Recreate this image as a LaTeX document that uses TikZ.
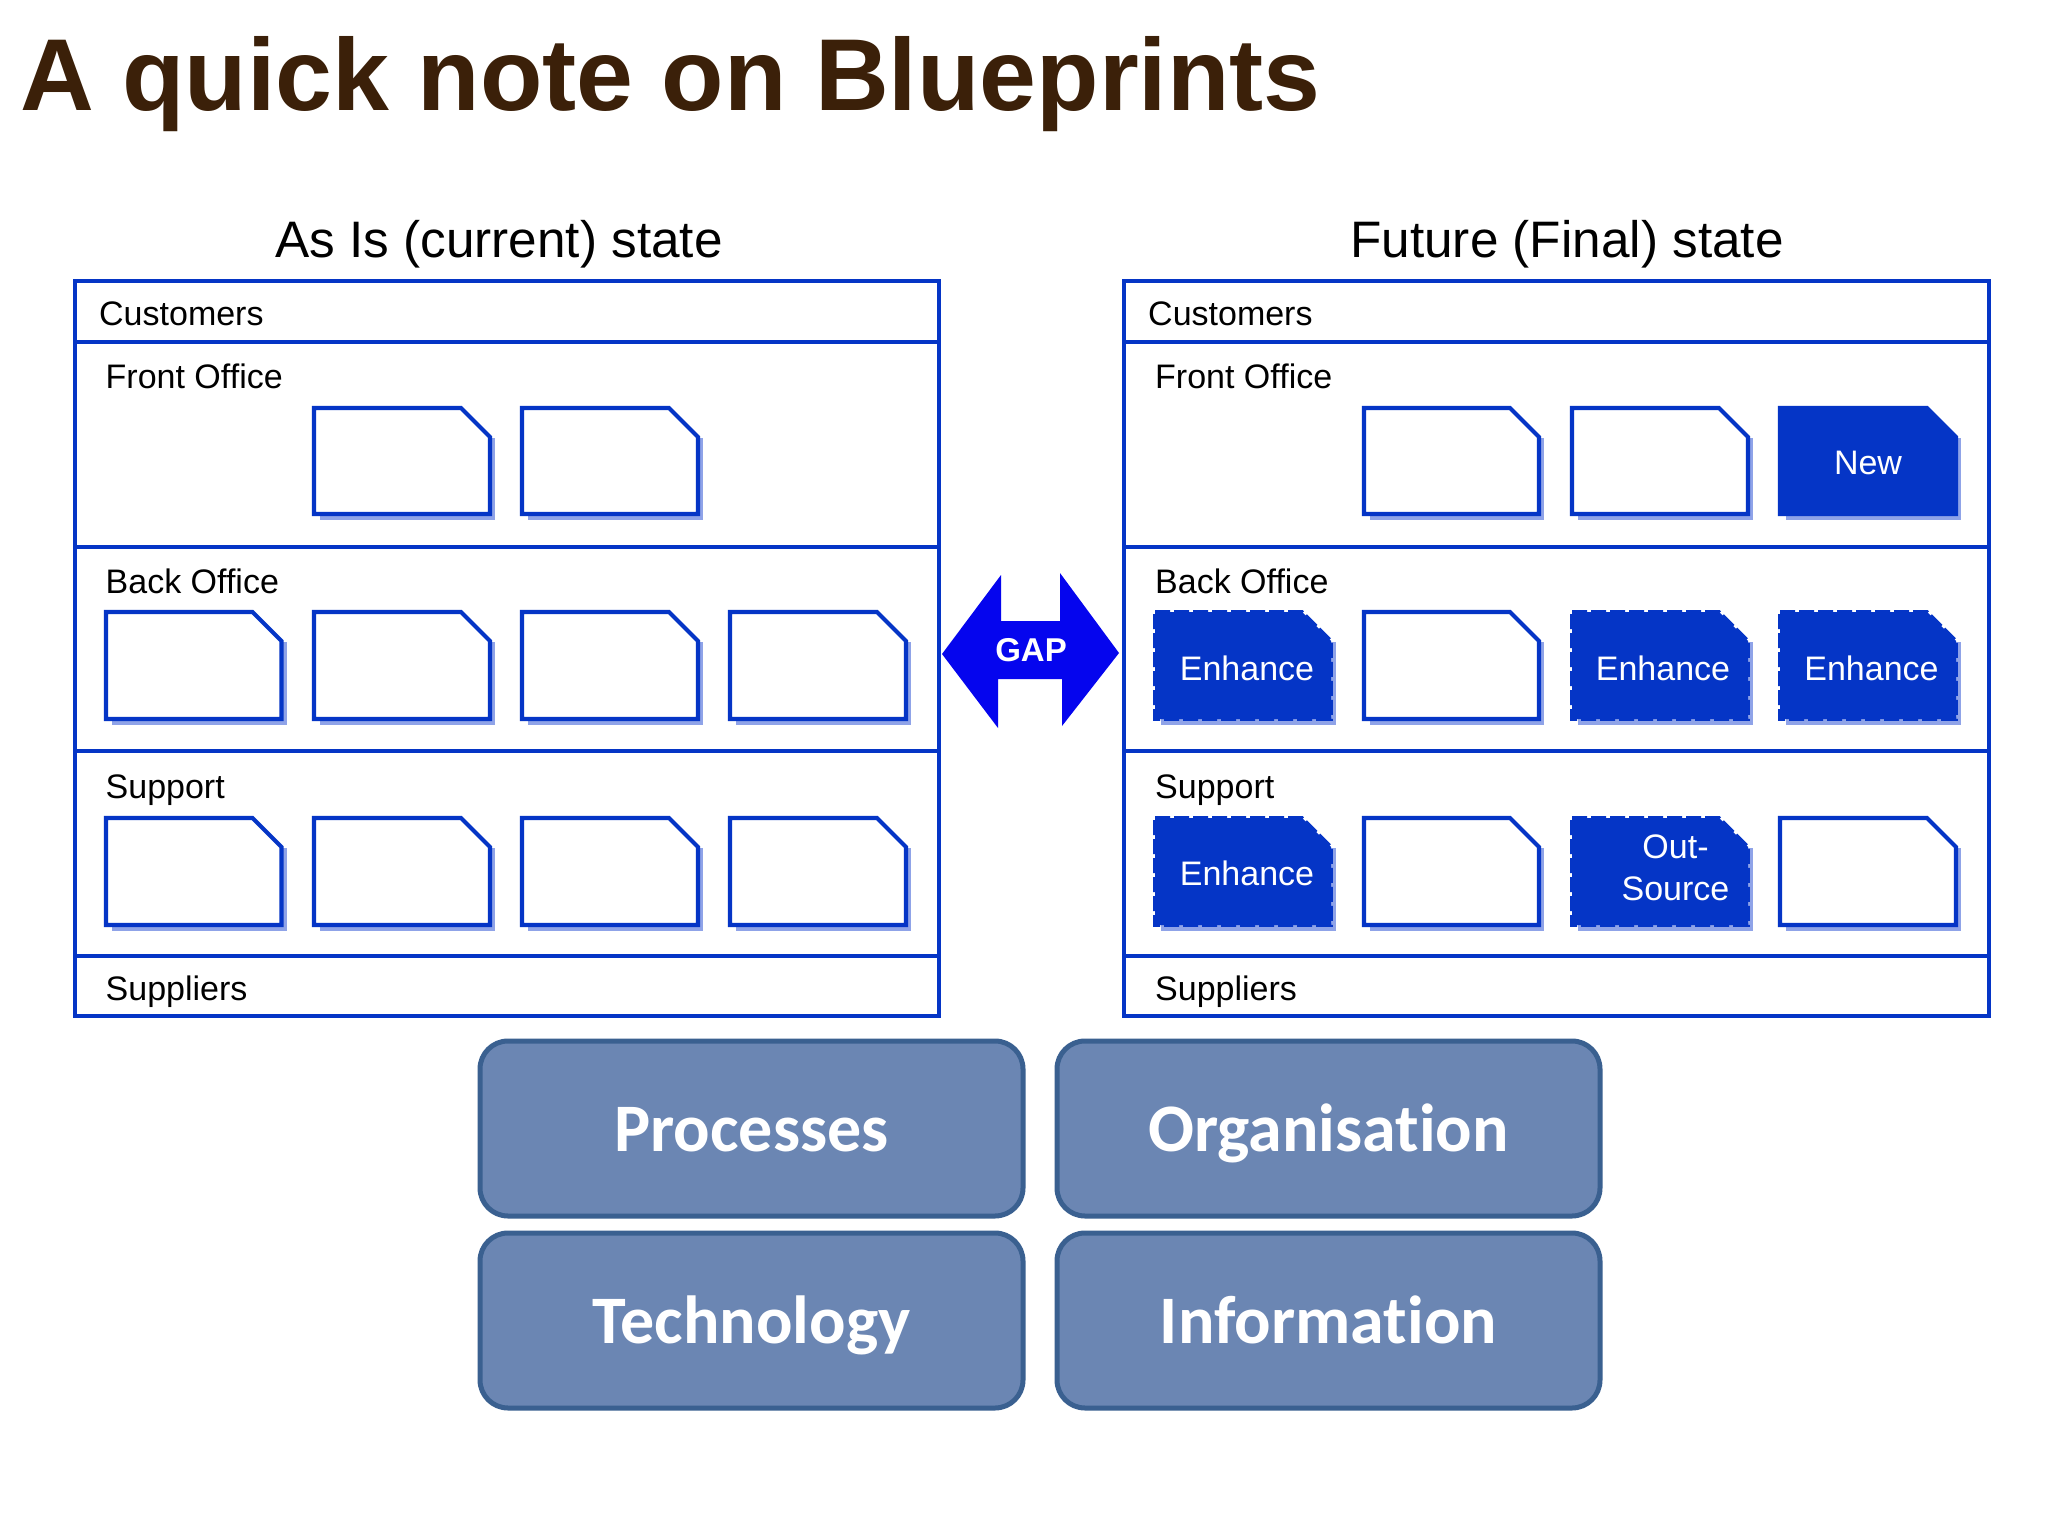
\documentclass[tikz,border=0pt]{standalone}
\usepackage{fontspec}
\setmainfont{Liberation Sans}
\newfontfamily\carlito[Ligatures=NoCommon]{Carlito}
\definecolor{linec}{HTML}{0535C6}
\definecolor{shadowc}{HTML}{8FA3E8}
\definecolor{gapc}{HTML}{0505EE}
\definecolor{titlec}{HTML}{3B2009}
\definecolor{boxf}{HTML}{6B86B3}
\definecolor{boxd}{HTML}{3A6090}
\tikzset{
  panel/.style={draw=linec,line width=4pt},
  doc/.style={draw=linec,line width=4.2pt,fill=white,line join=miter},
  docfull/.style={draw=linec,line width=4.2pt,fill=linec},
  docdash/.style={draw=linec,line width=3.6pt,fill=linec,dash pattern=on 15pt off 4pt},
  shadowdoc/.style={fill=shadowc},
  lab/.style={anchor=base west,inner sep=0pt,font=\fontsize{34}{40}\selectfont,text=black},
  head/.style={anchor=base,inner sep=0pt,font=\fontsize{51.3}{60}\selectfont,text=black},
  wtxt/.style={inner sep=0pt,align=center,text=white,font=\fontsize{34}{42}\selectfont},
  bigbox/.style={draw=boxd,fill=boxf,line width=5pt,rounded corners=28pt,inner sep=0pt},
  bigtxt/.style={anchor=base,inner sep=0pt,text=white,font=\carlito\bfseries\fontsize{68}{72}\selectfont},
}
% #1 style, #2 left x, #3 top y, #4 right x, #5 bottom y
\newcommand{\docshape}[5]{%
  \fill[shadowdoc] (#2+6,#3+30) -- (#4+5,#3+30) -- (#4+5,#5+6) -- (#2+6,#5+6) -- cycle;
  \draw[#1] (#2,#3) -- (#4-29,#3) -- (#4,#3+29) -- (#4,#5) -- (#2,#5) -- cycle;
}
\begin{document}
\begin{tikzpicture}[x=1pt,y=-1pt]
\useasboundingbox (0,0) rectangle (2048,1536);
\fill[white] (0,0) rectangle (2048,1536);
\node[anchor=base west,inner sep=0pt,text=titlec,font=\bfseries\fontsize{102.2}{110}\selectfont] (title) at (20,111) {A quick note on Blueprints};
\node[head] (hleft) at (499,257) {As Is (current) state};
\node[head] (hright) at (1567,257) {Future (Final) state};
% panels
\foreach \xa/\xb in {75/939,1124/1989}{
  \draw[panel] (\xa,281) rectangle (\xb,1016);
  \foreach \yy in {342,547,751,956}{\draw[panel] (\xa,\yy) -- (\xb,\yy);}
}
\node[lab] (l1) at (99,325) {Customers};
\node[lab] (l2) at (105.5,388) {Front Office};
\node[lab] (l3) at (105.5,593) {Back Office};
\node[lab] (l4) at (105.5,798) {Support};
\node[lab] (l5) at (105.5,1000) {Suppliers};
\node[lab] (r1) at (1148,325) {Customers};
\node[lab] (r2) at (1155,388) {Front Office};
\node[lab] (r3) at (1155,593) {Back Office};
\node[lab] (r4) at (1155,798) {Support};
\node[lab] (r5) at (1155,1000) {Suppliers};
% left documents
\docshape{doc}{314}{408}{490}{514}
\docshape{doc}{522}{408}{698}{514}
\foreach \xa/\xb in {106/281.5,314/490,522/698,730/906}{
  \docshape{doc}{\xa}{612}{\xb}{719}
  \docshape{doc}{\xa}{818}{\xb}{925}
}
% right documents
\docshape{doc}{1364}{408}{1539}{514}
\docshape{doc}{1572}{408}{1748}{514}
\docshape{docfull}{1780}{408}{1956}{514}
\docshape{docdash}{1155}{612}{1331}{719}
\docshape{doc}{1364}{612}{1539}{719}
\docshape{docdash}{1572}{612}{1748}{719}
\docshape{docdash}{1780}{612}{1956}{719}
\docshape{docdash}{1155}{818}{1331}{925}
\docshape{doc}{1364}{818}{1539}{925}
\docshape{docdash}{1572}{818}{1748}{925}
\docshape{doc}{1780}{818}{1956}{925}
\node[wtxt] (n1) at (1868,463) {New};
\node[wtxt] (e1) at (1247,668) {Enhance};
\node[wtxt] (e2) at (1663,668) {Enhance};
\node[wtxt] (e3) at (1871.5,668) {Enhance};
\node[wtxt] (e4) at (1247,873) {Enhance};
\node[wtxt] (o1) at (1675.5,868) {Out-\\Source};
% gap arrow
\fill[gapc] (942,654) -- (1001,575) -- (1001,621) -- (1060,621) -- (1060,573) -- (1119,653)
  -- (1062,726) -- (1062,679) -- (998,679) -- (998,728) -- cycle;
\node[inner sep=0pt,text=white,font=\bfseries\fontsize{33}{36}\selectfont] (gap) at (1031,650) {GAP};
% bottom boxes
\node[bigbox,minimum width=543pt,minimum height=175pt] (proc) at (751.5,1128.5) {};
\node[bigbox,minimum width=543pt,minimum height=175pt] (org) at (1328.5,1128.5) {};
\node[bigbox,minimum width=543pt,minimum height=175pt] (tech) at (751.5,1320.5) {};
\node[bigbox,minimum width=543pt,minimum height=175pt] (info) at (1328.5,1320.5) {};
\path (proc.center) ++(0,23) node[bigtxt] {Processes};
\path (org.center) ++(0,23) node[bigtxt] {Organisation};
\path (tech.center) ++(0,23) node[bigtxt] {Technology};
\path (info.center) ++(0,23) node[bigtxt] {Information};
\end{tikzpicture}
\end{document}
